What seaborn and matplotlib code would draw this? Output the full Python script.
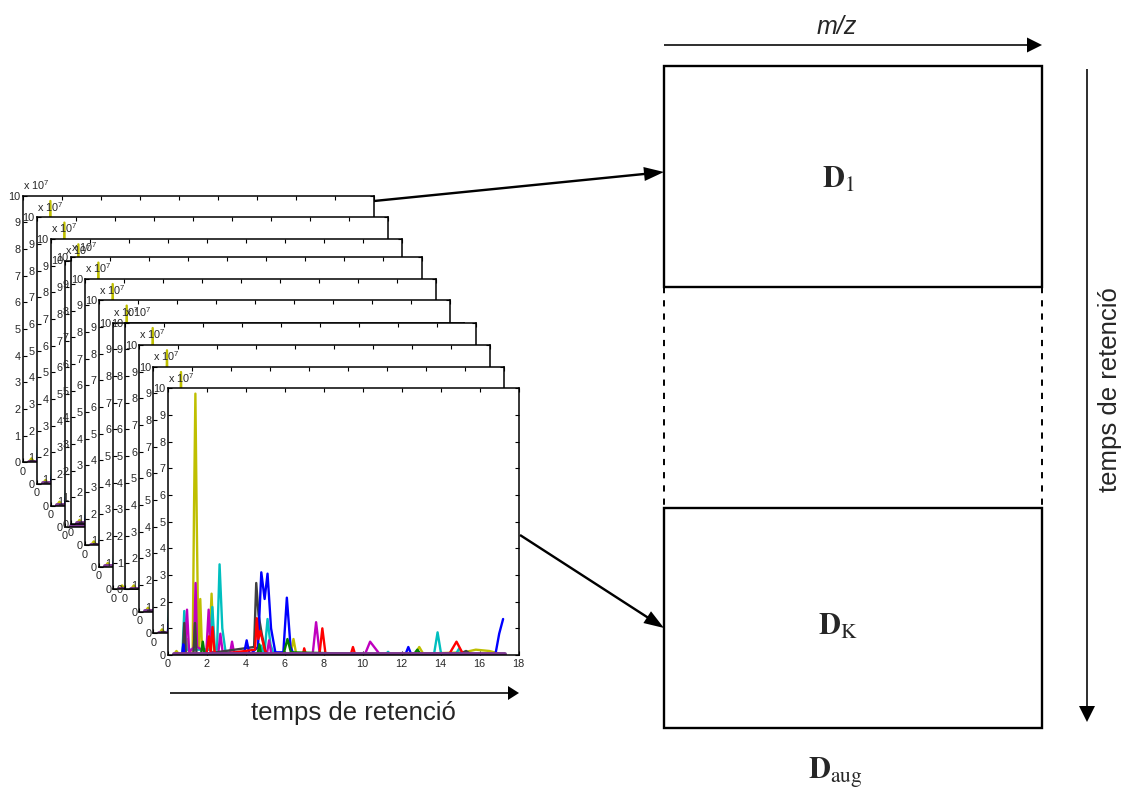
import numpy as np
import pandas as pd
import matplotlib
matplotlib.use("Agg")
import matplotlib.pyplot as plt
import seaborn as sns
from matplotlib.patches import Rectangle, FancyArrow

# ---- chromatogram traces (time in min, intensity in units of 1e7) ----
yellow_t = [0.3, 0.45, 0.6, 0.9, 1.0, 1.1, 1.28, 1.35, 1.42, 1.49, 1.57, 1.6, 1.67, 1.76,
            2.13, 2.25, 2.37, 6.3, 6.45, 6.6, 12.7, 12.9, 13.1, 15.2, 15.8, 16.5, 17.0, 17.3]
yellow_i = [0.0, 0.15, 0.0, 0.0, 0.6, 0.05, 0.0, 5.5, 9.8, 5.0, 0.5, 0.3, 2.1, 0.2,
            0.2, 2.3, 0.1, 0.0, 0.6, 0.0, 0.05, 0.3, 0.05, 0.1, 0.2, 0.15, 0.05, 0.0]

cyan_t = [0.3, 0.75, 0.85, 0.97, 2.18, 2.29, 2.42, 2.53, 2.66, 2.8, 2.97, 4.7, 4.8, 4.9,
          4.98, 5.12, 5.27, 5.45, 11.15, 11.3, 11.45, 13.65, 13.84, 14.03, 14.75, 14.95, 15.15, 17.3]
cyan_i = [0.0, 0.0, 1.65, 0.2, 0.2, 1.8, 0.2, 0.2, 3.4, 1.0, 0.1, 0.0, 0.35, 0.0,
          0.2, 1.35, 0.4, 0.0, 0.0, 0.12, 0.0, 0.0, 0.85, 0.0, 0.0, 0.25, 0.0, 0.0]

magenta_t = [0.3, 0.88, 0.99, 1.1, 1.35, 1.43, 1.51, 1.98, 2.1, 2.22, 2.6, 2.7, 2.82,
             3.18, 3.3, 3.42, 5.08, 5.2, 5.32, 7.43, 7.61, 7.8, 10.1, 10.38, 10.85, 17.3]
magenta_i = [0.0, 0.0, 1.7, 0.1, 0.3, 2.7, 0.3, 0.1, 1.7, 0.1, 0.1, 0.8, 0.1,
             0.0, 0.5, 0.0, 0.0, 0.55, 0.0, 0.0, 1.23, 0.0, 0.0, 0.5, 0.05, 0.0]

dark_t = [0.3, 0.77, 0.85, 0.93, 1.32, 1.4, 1.48, 4.43, 4.54, 4.66, 4.82, 5.05, 15.0, 15.3, 15.6, 17.3]
dark_i = [0.0, 0.0, 1.2, 0.0, 0.0, 1.2, 0.0, 0.3, 2.7, 1.5, 0.8, 0.0, 0.05, 0.15, 0.0, 0.0]

blue_t = [0.3, 0.74, 0.8, 0.86, 3.9, 4.05, 4.2, 4.63, 4.8, 4.97, 5.12, 5.3, 5.52,
          5.93, 6.11, 6.3, 6.47, 12.18, 12.34, 12.5, 16.8, 17.0, 17.2]
blue_i = [0.0, 0.0, 0.4, 0.0, 0.0, 0.55, 0.0, 0.3, 3.1, 2.1, 3.05, 1.0, 0.1,
          0.1, 2.15, 0.3, 0.0, 0.0, 0.3, 0.0, 0.0, 0.8, 1.35]

red_t = [0.3, 1.98, 2.12, 2.2, 2.3, 2.42, 4.48, 4.57, 4.65, 4.75, 4.97, 5.12, 6.93, 7.0, 7.1,
         7.78, 7.93, 8.1, 9.38, 9.5, 9.62, 14.45, 14.81, 15.1, 15.3, 17.3]
red_i = [0.0, 0.0, 0.7, 0.1, 1.05, 0.0, 0.2, 1.38, 0.6, 0.9, 0.2, 0.0, 0.0, 0.25, 0.0,
         0.0, 1.0, 0.0, 0.0, 0.3, 0.0, 0.05, 0.5, 0.1, 0.0, 0.0]

green_t = [0.3, 1.7, 1.8, 1.9, 4.6, 4.7, 4.8, 5.93, 6.14, 6.32, 12.6, 12.8, 13.0, 17.3]
green_i = [0.0, 0.0, 0.5, 0.0, 0.0, 0.4, 0.0, 0.0, 0.6, 0.1, 0.0, 0.2, 0.0, 0.0]

baseline_t = [0.3, 17.3]
baseline_i = [0.03, 0.03]

x_ticks = [0, 2, 4, 6, 8, 10, 12, 14, 16, 18]
y_ticks = [0, 1, 2, 3, 4, 5, 6, 7, 8, 9, 10]

traces = {
    "yellow": (yellow_t, yellow_i),
    "cyan": (cyan_t, cyan_i),
    "magenta": (magenta_t, magenta_i),
    "dark": (dark_t, dark_i),
    "blue": (blue_t, blue_i),
    "red": (red_t, red_i),
    "green": (green_t, green_i),
}
palette = {
    "yellow": "#BFBF00", "cyan": "#00BFBF", "magenta": "#BF00BF", "dark": "#404040",
    "blue": "#0000FF", "red": "#FF0000", "green": "#008000", "base": "#7E3A92",
}
df = pd.concat(
    [pd.DataFrame({"t": t, "I": i, "trace": name}) for name, (t, i) in traces.items()],
    ignore_index=True,
)
df_base = pd.DataFrame({"t": baseline_t, "I": baseline_i, "trace": "base"})

sns.set_style("ticks")
plt.rcParams["font.family"] = ["Liberation Sans", "DejaVu Sans"]
plt.rcParams["mathtext.fontset"] = "custom"
plt.rcParams["mathtext.rm"] = "Liberation Sans"
plt.rcParams["mathtext.it"] = "Liberation Sans:italic"
plt.rcParams["mathtext.bf"] = "Liberation Sans:bold"

W, H = 1125, 796
FW, FH = 351, 266.7
# stacked chromatogram panels, back to front (left, top) in pixels
frame_corners = [(22.7, 195.7), (36.7, 217.3), (50.7, 239.0), (65.0, 260.5),
                 (70.7, 257.3), (85.0, 278.7), (99.0, 300.3), (113.3, 322.7),
                 (125.0, 322.7), (139.3, 345.0), (153.3, 366.7), (167.7, 388.3)]

fig = plt.figure(figsize=(W / 100, H / 100), dpi=100)

for lx, ty in frame_corners:
    ax = fig.add_axes([lx / W, 1 - (ty + FH) / H, FW / W, FH / H])
    ax.set_facecolor("white")
    sns.lineplot(data=df, x="t", y="I", hue="trace", hue_order=list(traces),
                 palette=palette, legend=False, ax=ax, estimator=None,
                 errorbar=None, sort=False, linewidth=1.7)
    sns.lineplot(data=df_base, x="t", y="I", color=palette["base"], ax=ax,
                 estimator=None, errorbar=None, sort=False, linewidth=2.8)
    ax.set_xlim(0, 18)
    ax.set_ylim(0, 10)
    ax.set_xticks(x_ticks)
    ax.set_yticks(y_ticks)
    ax.tick_params(direction="in", length=3, width=0.8, top=True, right=True,
                   labelsize=7.8, pad=1.5, colors="black", labelcolor="#262626")
    ax.tick_params(axis="x", pad=3)
    for s in ax.spines.values():
        s.set_visible(True)
        s.set_linewidth(1.1)
        s.set_color("black")
    ax.set_xlabel("")
    ax.set_ylabel("")
    ax.text(0, 1.014, "x 10$^{7}$", transform=ax.transAxes, ha="left",
            va="bottom", fontsize=7.8, color="#262626")

# ---- augmented data matrix diagram ----
ov = fig.add_axes([0, 0, 1, 1])
ov.set_xlim(0, W)
ov.set_ylim(H, 0)
ov.axis("off")
ov.patch.set_alpha(0)

box_l, box_r = 664, 1042
ov.add_patch(Rectangle((box_l, 66), box_r - box_l, 221, fill=False, lw=1.7, ec="black"))
ov.add_patch(Rectangle((box_l, 508), box_r - box_l, 220, fill=False, lw=1.7, ec="black"))
for xx in (box_l, box_r):
    ov.plot([xx, xx], [287, 508], color="black", lw=1.4, ls=(0, (3.2, 3.6)))


def arrow(x0, y0, x1, y1, w, hl, hw):
    ov.add_patch(FancyArrow(x0, y0, x1 - x0, y1 - y0, width=w, head_length=hl,
                            head_width=hw, length_includes_head=True,
                            color="black", lw=0))


arrow(374, 201, 664, 172, 2.4, 20, 14)
arrow(520, 535, 664, 628, 2.4, 20, 14)
arrow(664, 45, 1042, 45, 1.6, 15, 15)
arrow(1087, 69, 1087, 722, 1.6, 16, 16)
arrow(170, 693, 519, 693, 1.6, 11, 14)

ov.text(837, 27, "m/z", fontsize=18, style="italic", ha="center", va="center")
ov.text(353, 713, "temps de retenció", fontsize=18.5, ha="center", va="center")
ov.text(1110, 390, "temps de retenció", fontsize=18.5, ha="center", va="center",
        rotation=90)
ov.text(838, 180, r"$\mathbf{D}_{1}$", fontsize=22, ha="center", va="center",
        math_fontfamily="stix")
ov.text(838, 627, r"$\mathbf{D}_{\mathrm{K}}$", fontsize=22, ha="center",
        va="center", math_fontfamily="stix")
ov.text(835, 773, r"$\mathbf{D}_{\mathrm{aug}}$", fontsize=22, ha="center",
        va="center", math_fontfamily="stix")

fig.savefig("out.png", dpi=100)
